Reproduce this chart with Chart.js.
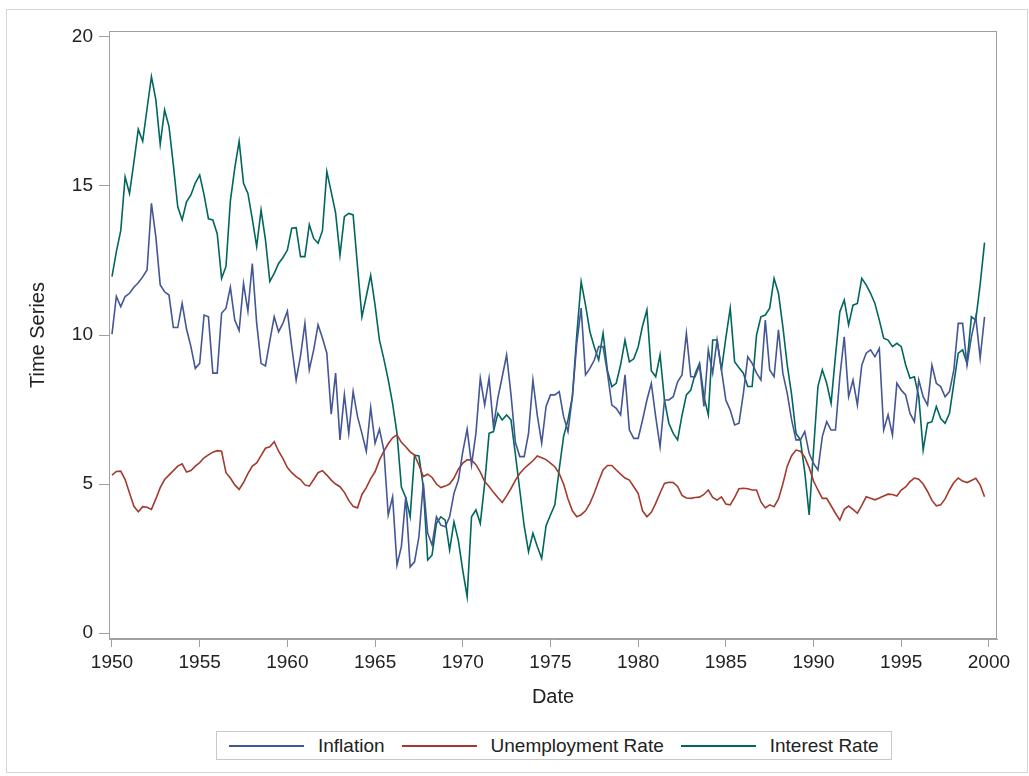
<!doctype html>
<html lang="en">
  <head>
    <meta charset="utf-8">
    <title>Inflation, Unemployment and Interest Rate</title>
    <style>
      * {
        margin: 0;
        padding: 0;
      }
      body {
        background: white;
        font-family: "Liberation Sans", Arial, sans-serif;
      }
      .frame {
        position: absolute;
        left: 6px;
        top: 9px;
        width: 1020px;
        height: 762px;
        border: 1px solid #d6d6d6;
      }
      #myChart {
        position: absolute;
        left: 0;
        top: 0;
      }
      .legend {
        position: absolute;
        left: 216px;
        top: 731px;
        height: 27px;
        padding: 0 12px;
        border: 1px solid #c8c8c8;
        display: flex;
        align-items: center;
        font-size: 19px;
        color: #222;
        background: white;
      }
      .legend .swatch {
        width: 75px;
        height: 0;
        border-top: 2px solid;
        margin-right: 14px;
      }
      .legend .item {
        display: flex;
        align-items: center;
        margin-right: 17px;
      }
      .legend .item:last-child {
        margin-right: 0;
      }
    </style>
  </head>
  <body>
    <div class="frame"></div>
    <canvas id="myChart" width="1029" height="776"></canvas>
    <div class="legend" id="legend"></div>

    <script src="https://cdn.jsdelivr.net/npm/chart.js"></script>
    <script>
    // quarterly series, 1950Q1 .. 1999Q4
    const startYear = 1950;

    const inflation = [
      10.03, 11.3, 10.95, 11.29, 11.4, 11.6, 11.75, 11.95, 12.18, 14.42,
      13.3, 11.68, 11.45, 11.34, 10.25, 10.25, 11.06, 10.2, 9.61, 8.88,
      9.05, 10.67, 10.61, 8.72, 8.72, 10.73, 10.9, 11.6, 10.5, 10.15,
      11.73, 10.8, 12.4, 10.4, 9.05, 8.96, 9.8, 10.61, 10.11, 10.4,
      10.8, 9.6, 8.49, 9.3, 10.39, 8.83, 9.5, 10.34, 9.9, 9.39,
      7.34, 8.72, 6.48, 8.0, 6.7, 8.1, 7.26, 6.7, 6.1, 7.57,
      6.37, 6.84, 6.14, 3.96, 4.57, 2.28, 2.9, 4.57, 2.22, 2.39,
      3.23, 5.02, 3.35, 2.95, 3.9, 3.62, 3.57, 3.9, 4.69, 5.13,
      6.08, 6.84, 5.64, 6.7, 8.55, 7.65, 8.55, 6.92, 7.88, 8.6,
      9.33, 8.0, 6.4, 5.92, 5.92, 6.7, 8.49, 7.3, 6.37, 7.6,
      7.99, 7.99, 8.1, 7.26, 6.76, 7.93, 9.72, 10.9, 8.66, 8.88,
      9.16, 9.61, 9.61, 8.72, 7.65, 7.54, 7.32, 8.66, 6.81, 6.53,
      6.53, 7.15, 7.82, 8.38, 7.26, 6.25, 7.82, 7.82, 7.93, 8.43,
      8.66, 10.06, 8.6, 8.6, 8.99, 7.6, 9.5, 8.72, 9.83, 8.83,
      7.82, 7.48, 6.98, 7.04, 8.04, 9.27, 9.05, 8.72, 8.49, 10.5,
      8.83, 8.6, 10.17, 8.72, 8.04, 7.15, 6.48, 6.48, 6.76, 6.03,
      5.69, 5.47, 6.59, 7.09, 6.81, 6.81, 8.6, 9.94, 7.93, 8.49,
      7.65, 8.99, 9.39, 9.5, 9.27, 9.55, 6.81, 7.32, 6.64, 8.38,
      8.15, 7.99, 7.37, 7.09, 8.49, 7.93, 7.65, 8.99, 8.38, 8.27,
      7.93, 8.1, 8.83, 10.39, 10.39, 8.99, 9.94, 10.61, 9.22, 10.61
    ];

    const unemployment = [
      5.3, 5.42, 5.43, 5.15, 4.7, 4.25, 4.07, 4.24, 4.22, 4.15,
      4.5, 4.88, 5.15, 5.3, 5.45, 5.6, 5.68, 5.4, 5.45, 5.6,
      5.72, 5.88, 5.98, 6.07, 6.12, 6.1, 5.38, 5.2, 4.97, 4.82,
      5.05, 5.35, 5.6, 5.71, 5.95, 6.2, 6.25, 6.42, 6.1, 5.85,
      5.55, 5.38, 5.25, 5.15, 4.97, 4.93, 5.15, 5.38, 5.45, 5.3,
      5.13, 5.0, 4.91, 4.72, 4.45, 4.25, 4.2, 4.65, 4.88, 5.18,
      5.41, 5.8, 6.1, 6.35, 6.55, 6.65, 6.4, 6.25, 6.08, 5.97,
      5.64, 5.25, 5.33, 5.22, 5.0, 4.88, 4.93, 5.0, 5.2, 5.5,
      5.7, 5.81, 5.81, 5.65, 5.4, 5.08, 4.92, 4.72, 4.55, 4.38,
      4.6, 4.85, 5.12, 5.35, 5.52, 5.65, 5.78, 5.94, 5.88, 5.82,
      5.7, 5.58, 5.35, 5.0, 4.5, 4.1, 3.9, 3.97, 4.1, 4.35,
      4.7, 5.1, 5.47, 5.62, 5.62, 5.47, 5.33, 5.2, 5.13, 4.91,
      4.69, 4.1, 3.9, 4.05, 4.35, 4.7, 5.02, 5.06, 5.05, 4.92,
      4.62, 4.53, 4.52, 4.55, 4.56, 4.65, 4.8, 4.55, 4.46, 4.57,
      4.33, 4.3, 4.55, 4.84, 4.86, 4.84, 4.8, 4.8, 4.4, 4.2,
      4.3, 4.24, 4.5, 5.0, 5.6, 5.95, 6.14, 6.1, 5.9, 5.55,
      5.1, 4.8, 4.52, 4.52, 4.27, 4.02, 3.79, 4.15, 4.26, 4.15,
      4.02, 4.28, 4.57, 4.52, 4.47, 4.53, 4.6, 4.66, 4.65, 4.6,
      4.8, 4.9, 5.08, 5.2, 5.16, 5.0, 4.75, 4.45, 4.27, 4.3,
      4.5, 4.8, 5.05, 5.2, 5.1, 5.05, 5.12, 5.19, 4.97, 4.57
    ];

    const interest = [
      11.96, 12.8, 13.5, 15.3, 14.75, 15.8, 16.9, 16.5, 17.6, 18.67,
      17.9, 16.4, 17.55, 17.0, 15.7, 14.3, 13.86, 14.47, 14.7, 15.1,
      15.37, 14.7, 13.9, 13.86, 13.4, 11.9, 12.3, 14.5, 15.6, 16.5,
      15.09, 14.75, 13.9, 12.97, 14.19, 13.2, 11.8, 12.07, 12.4, 12.6,
      12.85, 13.58, 13.6, 12.63, 12.63, 13.7, 13.24, 13.08, 13.5, 15.48,
      14.8, 14.1, 12.68, 13.97, 14.08, 14.03, 12.3, 10.61, 11.3, 12.0,
      11.0, 9.83, 9.2, 8.5, 7.7, 6.7, 4.9, 4.55, 3.9, 5.97,
      5.94, 4.91, 2.45, 2.62, 3.68, 3.9, 3.79, 2.79, 3.73, 3.1,
      2.1, 1.22, 3.9, 4.13, 3.68, 5.02, 6.7, 6.76, 7.37, 7.15,
      7.32, 7.15, 6.0, 4.8, 3.6, 2.73, 3.35, 2.9, 2.5, 3.6,
      3.96, 4.3, 5.5, 6.6, 7.15, 7.93, 10.0, 11.79, 11.0, 10.11,
      9.6, 9.16, 10.06, 8.8, 8.27, 8.38, 9.0, 9.83, 9.1, 9.2,
      9.6, 10.3, 10.84, 8.8, 8.6, 9.33, 7.82, 7.04, 6.7, 6.48,
      7.3, 7.99, 8.15, 8.7, 9.05, 7.93, 7.32, 9.83, 9.83, 8.83,
      9.9, 10.9, 9.1, 8.9, 8.72, 8.27, 8.27, 10.0, 10.61, 10.67,
      10.9, 11.9, 11.4, 10.28, 9.0, 8.0, 6.7, 6.48, 5.4, 3.96,
      6.14, 8.27, 8.83, 8.38, 7.71, 9.3, 10.78, 11.17, 10.34, 11.0,
      11.06, 11.9, 11.68, 11.4, 11.06, 10.5, 9.89, 9.83, 9.61, 9.72,
      9.61, 9.0, 8.55, 8.6, 7.93, 6.14, 7.04, 7.09, 7.6, 7.2,
      7.04, 7.37, 8.38, 9.39, 9.5, 9.05, 10.61, 10.5, 11.7, 13.1
    ];

    const yearTicks = [1950, 1955, 1960, 1965, 1970, 1975, 1980, 1985, 1990, 1995, 2000];
    const valueTicks = [0, 5, 10, 15, 20];

    const seriesNames = ['Inflation', 'Unemployment Rate', 'Interest Rate'];
    const seriesColors = ['#445694', '#A23A2E', '#01665E'];

    const toPoints = values => values.map((v, i) => ({ x: startYear + i / 4, y: v }));

    const axisGray = '#a0a0a0';
    const textColor = '#222';

    // full box around the plot area
    const plotFrame = {
      id: 'plotFrame',
      afterDraw(chart) {
        const { ctx, chartArea: a } = chart;
        ctx.save();
        ctx.strokeStyle = axisGray;
        ctx.lineWidth = 1;
        ctx.strokeRect(a.left + 0.5, a.top + 0.5, a.right - a.left - 1, a.bottom - a.top - 1);
        ctx.restore();
      }
    };

    const data = {
      datasets: [inflation, unemployment, interest].map((values, i) => ({
        label: seriesNames[i],
        data: toPoints(values),
        borderColor: seriesColors[i],
        borderWidth: 1.6,
        pointRadius: 0,
        tension: 0,
        fill: false
      }))
    };

    const config = {
      type: 'line',
      data,
      plugins: [plotFrame],
      options: {
        responsive: false,
        animation: false,
        layout: {
          padding: { left: 0, top: 31, right: 32, bottom: 0 }
        },
        plugins: {
          legend: { display: false },
          tooltip: { enabled: false }
        },
        scales: {
          x: {
            type: 'linear',
            min: 1949.83,
            max: 2000.46,
            afterBuildTicks: scale => {
              scale.ticks = yearTicks.map(v => ({ value: v }));
            },
            afterFit: scale => {
              scale.height = 137;
              scale.paddingLeft = 0;
              scale.paddingRight = 0;
            },
            grid: {
              drawOnChartArea: false,
              tickLength: 8,
              color: axisGray
            },
            border: { color: axisGray },
            ticks: {
              padding: 4,
              maxRotation: 0,
              autoSkip: false,
              color: textColor,
              font: { family: '"Liberation Sans", Arial, sans-serif', size: 19 },
              callback: v => String(v)
            },
            title: {
              display: true,
              text: 'Date',
              color: textColor,
              font: { family: '"Liberation Sans", Arial, sans-serif', size: 20 },
              padding: { top: 0, bottom: 67 }
            }
          },
          y: {
            min: -0.2,
            max: 20.2,
            afterBuildTicks: scale => {
              scale.ticks = valueTicks.map(v => ({ value: v }));
            },
            afterFit: scale => {
              scale.width = 109;
              scale.paddingTop = 0;
              scale.paddingBottom = 0;
            },
            grid: {
              drawOnChartArea: false,
              tickLength: 10,
              color: axisGray
            },
            border: { color: axisGray },
            ticks: {
              padding: 6,
              color: textColor,
              font: { family: '"Liberation Sans", Arial, sans-serif', size: 19 }
            },
            title: {
              display: true,
              text: 'Time Series',
              color: textColor,
              font: { family: '"Liberation Sans", Arial, sans-serif', size: 20 },
              padding: { top: 26, bottom: 0 }
            }
          }
        }
      }
    };

    const myChart = new Chart(document.getElementById('myChart'), config);

    // legend row under the chart
    const legend = document.getElementById('legend');
    seriesNames.forEach((name, i) => {
      const item = document.createElement('div');
      item.className = 'item';
      const swatch = document.createElement('span');
      swatch.className = 'swatch';
      swatch.style.borderColor = seriesColors[i];
      const label = document.createElement('span');
      label.textContent = name;
      item.appendChild(swatch);
      item.appendChild(label);
      legend.appendChild(item);
    });
    </script>
  </body>
</html>
